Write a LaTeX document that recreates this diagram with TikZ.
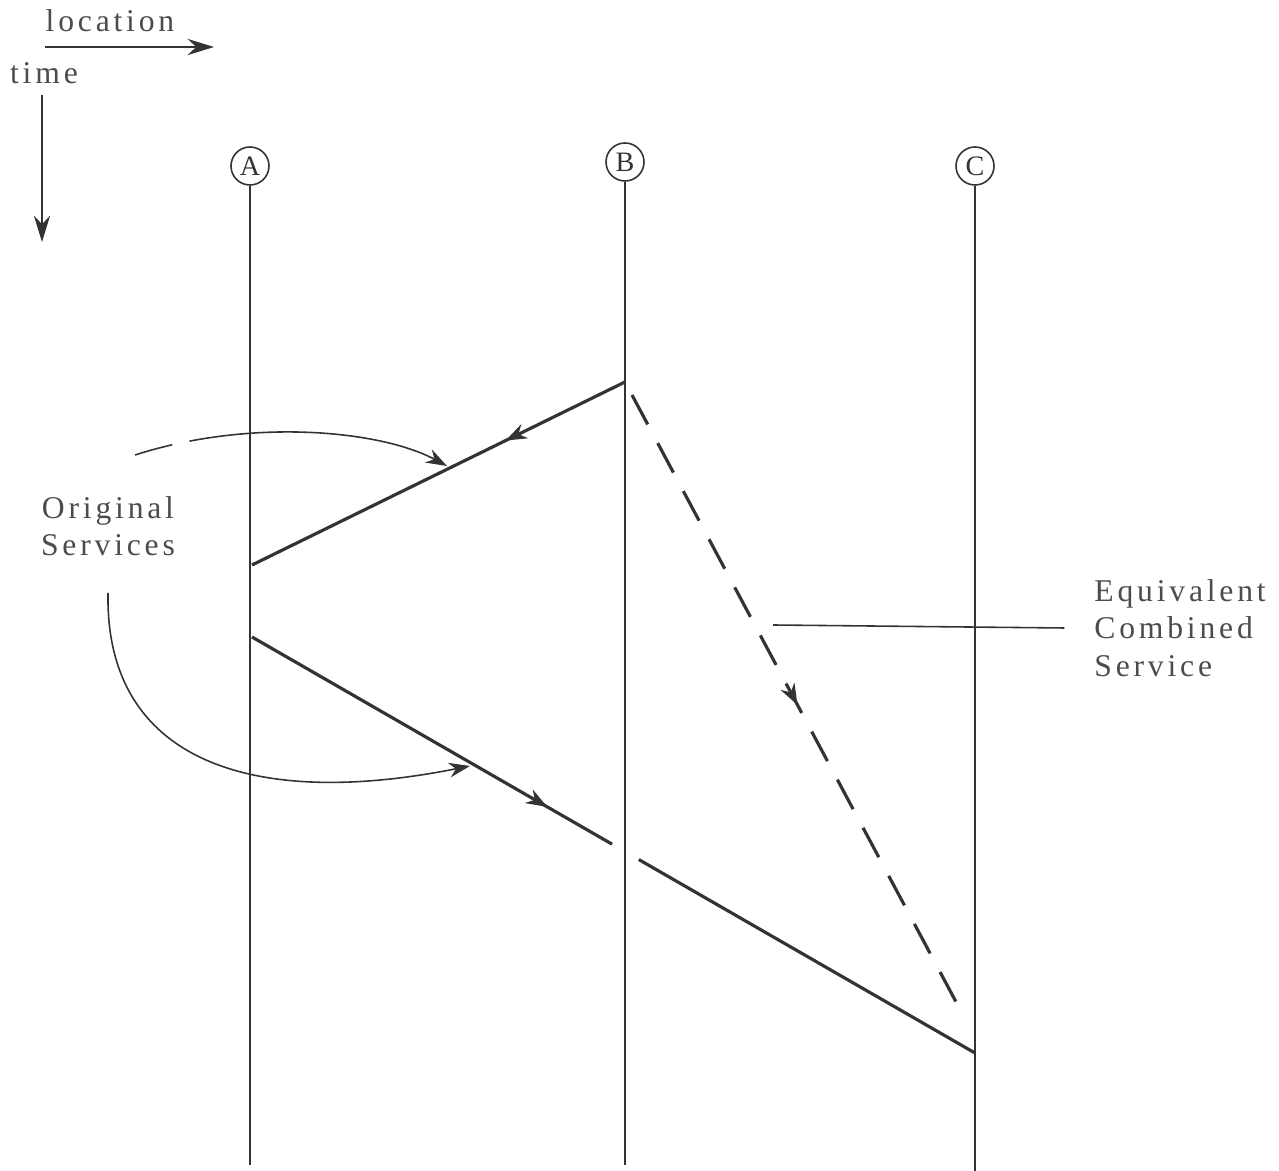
\documentclass[tikz,border=0pt]{standalone}
\usepackage{fontspec}
\setmainfont{Liberation Serif}[LetterSpace=12]
\usetikzlibrary{arrows.meta,calc,decorations.markings}

\tikzset{
  ink/.style={draw=black!80},
  track/.style={ink, line width=0.45pt},
  service/.style={ink, line width=0.9pt},
  combined/.style={service, dash pattern=on 9.5pt off 6pt},
  station/.style={circle, draw=black!80, line width=0.45pt, minimum size=0.38cm,
    inner sep=0pt, text=black!80, font=\fontsize{8}{9}\selectfont},
  txt/.style={text=black!70, font=\fontsize{9}{10.7}\selectfont},
  arrowed/.style={-{Stealth[length=6pt,width=4.2pt]}},
  keyarrow/.style={-{Stealth[length=7.5pt,width=4.6pt]}},
  midarrow/.style={postaction={decorate}, decoration={markings,
    mark=at position #1 with {\pgfsetdash{}{0pt}\arrow{Stealth[length=6pt,width=4.4pt]}}}},
}

\begin{document}
\begin{tikzpicture}[x=0.01cm, y=-0.01cm]
    \useasboundingbox (0,0) rectangle (1279,1171);

    % direction key
    \node[txt] (loc) at (110,21) {location};
    \node[txt] (time) at (44,73) {time};
    \coordinate (locS) at (45,47);
    \coordinate (locE) at (214,47);
    \coordinate (timeS) at (42,95);
    \coordinate (timeE) at (42,242);
    \draw[track, keyarrow] (locS) -- (locE);
    \draw[track, keyarrow] (timeS) -- (timeE);

    % stations and their time lines
    \node[station] (A) at (250,166) {A};
    \node[station] (B) at (625,162) {B};
    \node[station] (C) at (975,166) {C};
    \coordinate (Aend) at (250,1165);
    \coordinate (Bend) at (625,1165);
    \coordinate (Cend) at (975,1171);
    \draw[track] (A) -- (Aend);
    \draw[track] (B) -- (Bend);
    \draw[track] (C) -- (Cend);

    % original services
    \coordinate (b1) at (625,382);
    \coordinate (a1) at (252,565);
    \coordinate (a2) at (252,637);
    \coordinate (c1) at (975,1053);
    \draw[service, midarrow=0.32] (b1) -- (a1);
    \draw[service, midarrow=0.82] (a2) -- ($(a2)!0.498!(c1)$);
    \draw[service] ($(a2)!0.535!(c1)$) -- (c1);

    % equivalent combined service
    \coordinate (b2) at (632,395);
    \coordinate (c2) at (963,1015);
    \draw[combined, midarrow=0.5] (b2) -- (c2);

    % labels
    \node[txt, align=center] (orig) at (108,526) {Original\\Services};
    \coordinate (o1) at (135,455);
    \coordinate (t1) at (447,466);
    \coordinate (o2) at (108,593);
    \coordinate (t2) at (470,766);
    \draw[track, arrowed, dash pattern=on 11pt off 5pt on 400pt]
        (o1) .. controls (250,418) and (380,430) .. (t1);
    \draw[track, arrowed] (o2) .. controls (105,760) and (250,810) .. (t2);

    \node[txt, align=left, anchor=west] (eq) at (1082,628) {Equivalent\\Combined\\Service};
    \coordinate (eqS) at (773,625);
    \draw[track] (eqS) -- ([xshift=-5pt]eq.west);
\end{tikzpicture}
\end{document}
